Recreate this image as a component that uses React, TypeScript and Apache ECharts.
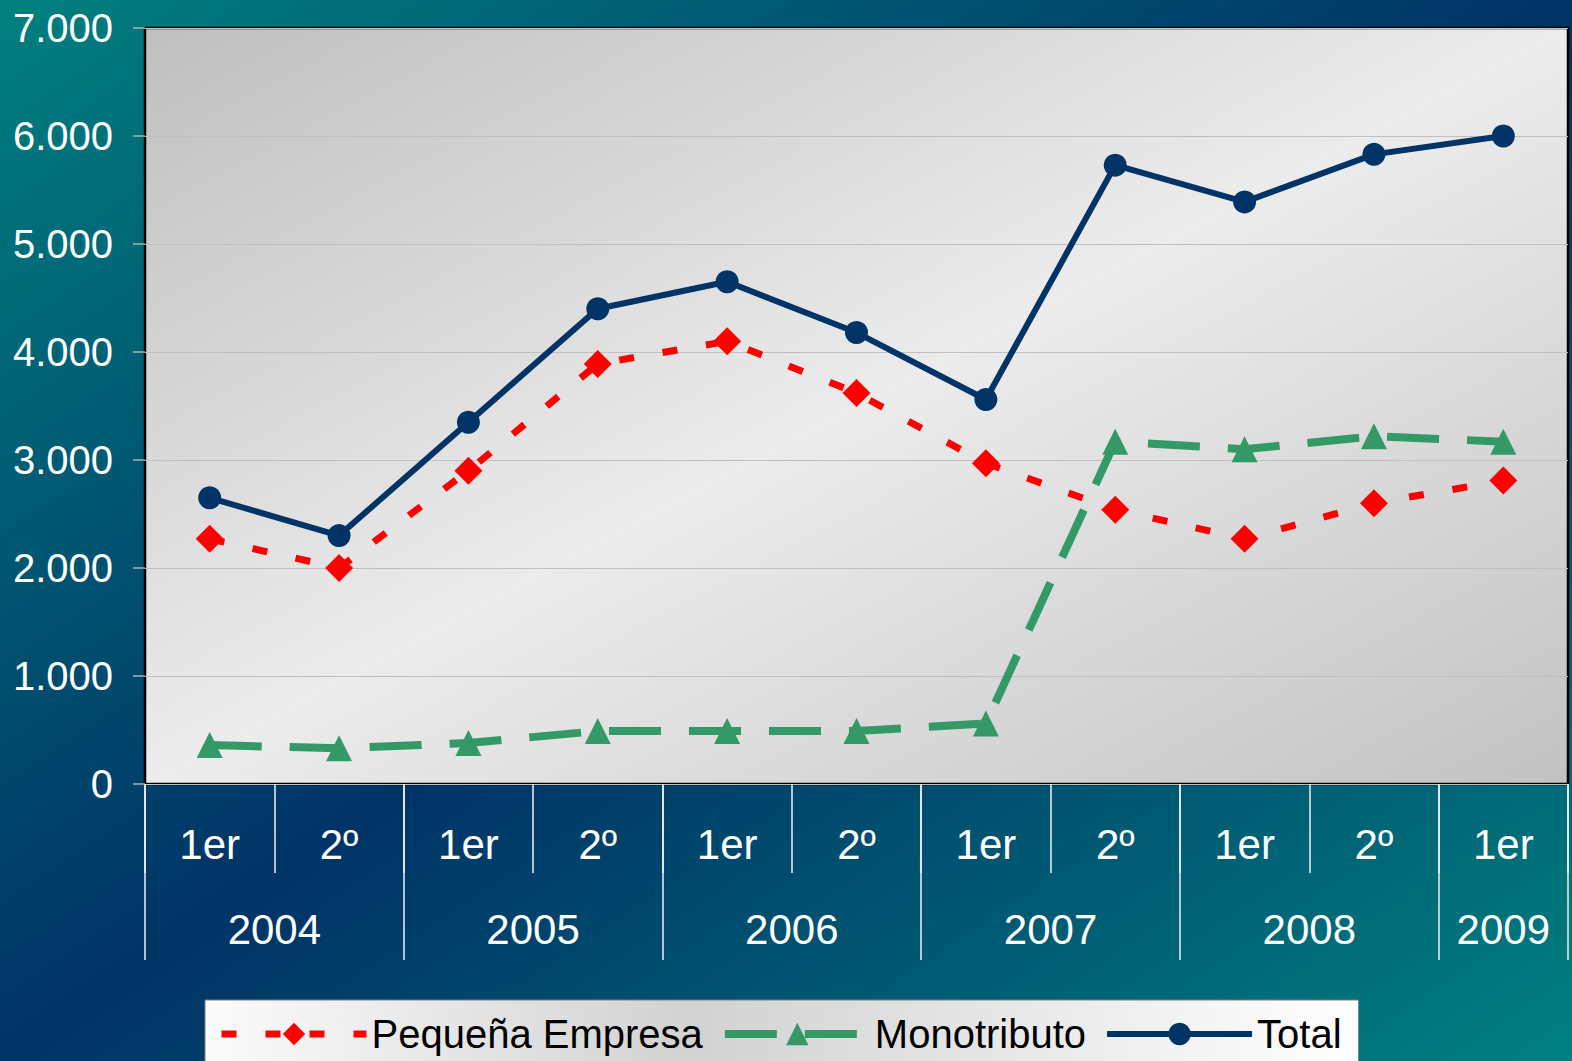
import React, { useEffect, useRef } from 'react';
import * as echarts from 'echarts';

const quarters = ['1er', '2º', '1er', '2º', '1er', '2º', '1er', '2º', '1er', '2º', '1er'];
const years = ['2004', '2005', '2006', '2007', '2008', '2009'];
const quartersPerYear = [2, 2, 2, 2, 2, 1];
const yTicks = [0, 1000, 2000, 3000, 4000, 5000, 6000, 7000];

const pequenaEmpresa = [2270, 2000, 2900, 3890, 4100, 3620, 2970, 2540, 2270, 2600, 2810];
const monotributo = [360, 330, 380, 490, 490, 490, 560, 3170, 3100, 3220, 3170];
const total = [2650, 2300, 3350, 4400, 4650, 4180, 3560, 5730, 5390, 5830, 6000];

const W = 1572;
const H = 1061;
const NARROW = "'Liberation Sans Narrow', 'Arial Narrow', 'Liberation Sans', Arial, sans-serif";
const SANS = "'Liberation Sans', Arial, sans-serif";

// Build a half-quarter point axis (boundaryGap false) for the year level
const halfPoints: string[] = [];
const yearLabelIdx: number[] = [];
const yearTickIdx: number[] = [];
(() => {
  const n = quarters.length * 2 + 1;
  for (let i = 0; i < n; i++) halfPoints.push('');
  let s = 0;
  years.forEach((y, k) => {
    const q = quartersPerYear[k];
    yearTickIdx.push(2 * s);
    const li = 2 * s + q;
    halfPoints[li] = y;
    yearLabelIdx.push(li);
    s += q;
  });
  yearTickIdx.push(2 * s);
})();

function diagGradient(x0: number, y0: number, w: number, h: number, stops: { offset: number; color: string }[]) {
  const cx = x0 + w / 2;
  const cy = y0 + h / 2;
  const f = (w * h) / (w * w + h * h);
  const dx = h * f;
  const dy = w * f;
  return new echarts.graphic.LinearGradient(cx - dx, cy - dy, cx + dx, cy + dy, stops, true);
}

const fmt = (v: number) => String(v).replace(/\B(?=(\d{3})+(?!\d))/g, '.');

export default function App() {
  const ref = useRef<HTMLDivElement>(null);

  useEffect(() => {
    if (!ref.current) return;
    const chart = echarts.init(ref.current, undefined, { renderer: 'svg' });
    const gl = 145, gt = 28, gr = 1568, gb = 784;

    const option: any = {
      animation: false,
      graphic: [
        {
          type: 'rect',
          z: -100,
          silent: true,
          shape: { x: 0, y: 0, width: W, height: H },
          style: {
            fill: diagGradient(0, 0, W, H, [
              { offset: 0, color: '#00807f' },
              { offset: 0.5, color: '#003366' },
              { offset: 1, color: '#008080' },
            ]),
          },
        },
      ],
      grid: {
        left: gl,
        top: gt,
        right: W - gr,
        bottom: H - gb,
        show: true,
        borderColor: '#000000',
        borderWidth: 2.5,
        backgroundColor: diagGradient(gl, gt, gr - gl, gb - gt, [
          { offset: 0, color: '#bfbfbf' },
          { offset: 0.5, color: '#ececec' },
          { offset: 1, color: '#c2c2c2' },
        ]),
      },
      legend: {
        left: 205,
        top: 1000,
        orient: 'horizontal',
        itemWidth: 145,
        itemHeight: 28,
        itemGap: 18,
        padding: [8, 17, 8, 13],
        borderColor: '#808080',
        borderWidth: 1,
        backgroundColor: new echarts.graphic.LinearGradient(0, 0, 1, 0, [
          { offset: 0, color: '#fbfbfb' },
          { offset: 0.42, color: '#d2d2d2' },
          { offset: 1, color: '#ffffff' },
        ]),
        lineStyle: { width: 'inherit', type: 'inherit' },
        textStyle: { color: '#000000', fontSize: 40, fontFamily: NARROW, lineHeight: 52 },
        data: ['Pequeña Empresa', 'Monotributo', 'Total'],
      },
      xAxis: [
        {
          type: 'category',
          data: quarters,
          position: 'bottom',
          boundaryGap: true,
          axisLine: { show: false },
          axisTick: { show: true, interval: 0, length: 89, lineStyle: { color: '#f0f0f0', width: 1.5 } },
          axisLabel: {
            interval: 0,
            color: '#ffffff',
            fontSize: 42,
            fontFamily: NARROW,
            lineHeight: 42,
            margin: 39,
          },
          splitLine: { show: false },
        },
        {
          type: 'category',
          data: halfPoints,
          position: 'bottom',
          boundaryGap: false,
          axisLine: { show: false },
          axisTick: {
            show: true,
            interval: (i: number) => yearTickIdx.includes(i),
            length: 176,
            lineStyle: { color: '#f0f0f0', width: 1.5 },
          },
          axisLabel: {
            interval: (i: number) => yearLabelIdx.includes(i),
            color: '#ffffff',
            fontSize: 42,
            fontFamily: NARROW,
            lineHeight: 42,
            margin: 124,
          },
          splitLine: { show: false },
        },
      ],
      yAxis: {
        type: 'value',
        min: yTicks[0],
        max: yTicks[yTicks.length - 1],
        interval: yTicks[1] - yTicks[0],
        axisLine: { show: false },
        axisTick: { show: true, length: 12, lineStyle: { color: '#a8b0b8', width: 1.5 } },
        axisLabel: { color: '#ffffff', fontSize: 40, fontFamily: SANS, margin: 32, formatter: fmt },
        splitLine: { show: true, lineStyle: { color: '#c0c0c0', width: 1 } },
      },
      series: [
        {
          name: 'Pequeña Empresa',
          type: 'line',
          data: pequenaEmpresa,
          symbol: 'diamond',
          symbolSize: 28,
          lineStyle: { color: '#ff0000', width: 7, type: [15, 29] },
          itemStyle: { color: '#ff0000' },
        },
        {
          name: 'Monotributo',
          type: 'line',
          data: monotributo,
          symbol: 'triangle',
          symbolSize: 26,
          lineStyle: { color: '#339966', width: 8, type: [52, 28] },
          itemStyle: { color: '#339966' },
        },
        {
          name: 'Total',
          type: 'line',
          data: total,
          symbol: 'circle',
          symbolSize: 23,
          lineStyle: { color: '#003366', width: 6 },
          itemStyle: { color: '#003366' },
        },
      ],
    };
    chart.setOption(option);
    return () => chart.dispose();
  }, []);

  return (
    <div
      ref={ref}
      style={{ position: 'absolute', left: 0, top: 0, width: W, height: H, overflow: 'hidden' }}
    />
  );
}
